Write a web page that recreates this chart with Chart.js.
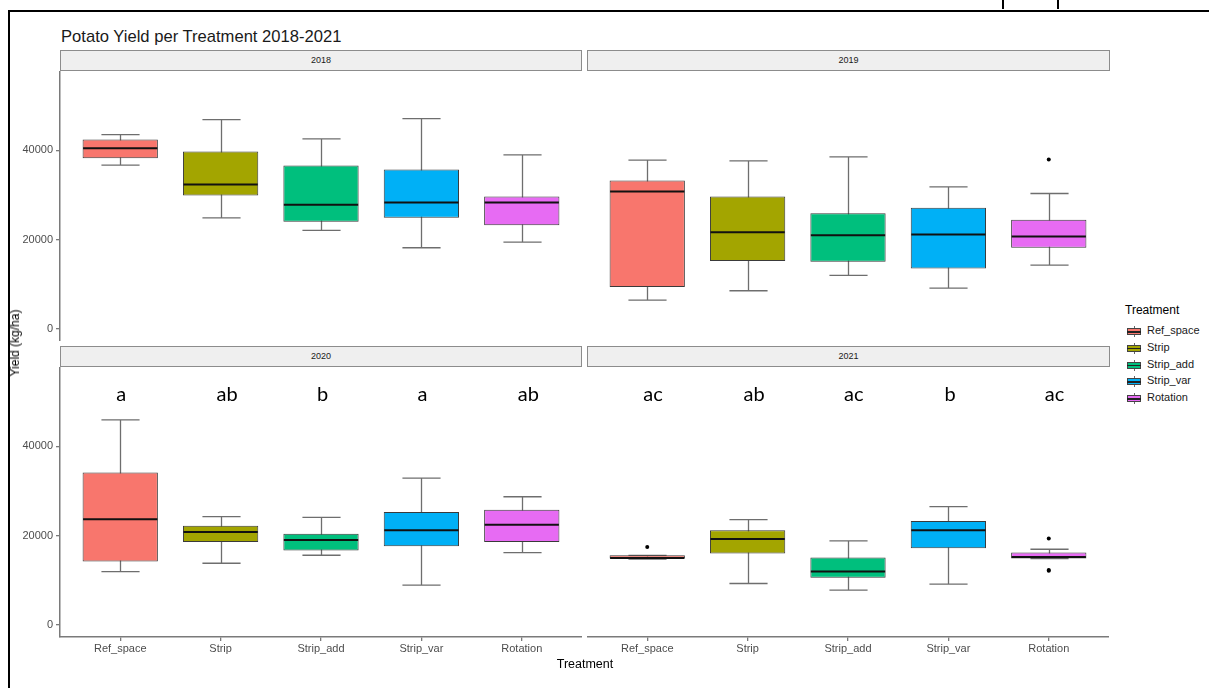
<!DOCTYPE html>
<html>
<head>
<meta charset="utf-8">
<title>Potato Yield per Treatment 2018-2021</title>
<script src="https://cdn.jsdelivr.net/npm/chart.js@4.4.1/dist/chart.umd.min.js"></script>
<style>
  html, body { margin: 0; padding: 0; }
  body {
    width: 1209px; height: 688px; position: relative; overflow: hidden;
    background: #fff; font-family: "Liberation Sans", Arial, sans-serif;
  }
  .frame {
    position: absolute; left: 8px; top: 10px; width: 1400px; height: 900px;
    border-left: 2px solid #000; border-top: 2px solid #000;
  }
  .nub { position: absolute; top: 0; width: 2px; height: 9px; background: #000; }
  .title {
    position: absolute; left: 61px; top: 27px; font-size: 16.6px; color: #1a1a1a;
    white-space: nowrap;
  }
  .strip {
    position: absolute; height: 21px; box-sizing: border-box;
    background: #efefef; border: 1px solid #8c8c8c;
    font-size: 9px; color: #1a1a1a; text-align: center; line-height: 19px;
  }
  canvas.panel { position: absolute; }
  .ylab {
    position: absolute; left: 15px; top: 343px; font-size: 12px; color: #000;
    transform: translate(-50%, -50%) rotate(-90deg); white-space: nowrap;
  }
  .xlab {
    position: absolute; left: 585px; top: 664px; font-size: 12.5px; color: #000;
    transform: translate(-50%, -50%); white-space: nowrap;
  }
  .legend { position: absolute; left: 1125px; top: 303px; }
  .legend .ltitle { font-size: 12px; color: #000; height: 20px; }
  .legend .item { position: relative; height: 16.8px; }
  .legend .key {
    position: absolute; left: 2px; top: 3px; width: 14px; height: 10px;
  }
  .legend .key .stub {
    position: absolute; left: 6.5px; width: 1px; height: 2px; background: #666;
  }
  .legend .key .box {
    position: absolute; left: 0; top: 2px; width: 14px; height: 7px;
    box-sizing: border-box; border: 1px solid #444;
  }
  .legend .key .med {
    position: absolute; left: 0; top: 5px; width: 14px; height: 1.5px; background: #222;
  }
  .legend .lbl {
    position: absolute; left: 22px; top: 1px; font-size: 11px; color: #1a1a1a;
    white-space: nowrap;
  }
</style>
</head>
<body>
<div class="frame"></div>
<div class="nub" style="left:1002px"></div>
<div class="nub" style="left:1057px"></div>
<div class="title">Potato Yield per Treatment 2018-2021</div>

<div class="strip" style="left:60px; top:50px; width:522px;">2018</div>
<div class="strip" style="left:587px; top:50px; width:523px;">2019</div>
<div class="strip" style="left:60px; top:346px; width:522px;">2020</div>
<div class="strip" style="left:587px; top:346px; width:523px;">2021</div>

<canvas id="p2018" class="panel" width="572" height="270" style="left:10px; top:71px;"></canvas>
<canvas id="p2019" class="panel" width="522" height="270" style="left:587px; top:71px;"></canvas>
<canvas id="p2020" class="panel" width="572" height="294" style="left:10px; top:367px;"></canvas>
<canvas id="p2021" class="panel" width="522" height="294" style="left:587px; top:367px;"></canvas>

<div class="ylab">Yield (kg/ha)</div>
<div class="xlab">Treatment</div>
<div class="legend" id="legend"><div class="ltitle">Treatment</div></div>

<script>
// Treatments (x categories) and their fill colours
const treatments = ['Ref_space', 'Strip', 'Strip_add', 'Strip_var', 'Rotation'];
const fillColors = ['#F8766D', '#A3A500', '#00BF7D', '#00B0F6', '#E76BF3'];
const yTicks = [0, 20000, 40000];

// Yield (kg/ha) box statistics per year, one value per treatment
const lower2018  = [36640, 24850, 22020, 18140, 19400];
const q1_2018    = [38210, 29850, 23960, 24850, 23210];
const median2018 = [40450, 32310, 27760, 28280, 28280];
const q3_2018    = [42390, 39700, 36570, 35670, 29630];
const upper2018  = [43510, 46870, 42540, 47090, 38960];
const outliers2018 = [];

const lower2019  = [6420, 8510, 11940, 9100, 14250];
const q1_2019    = [9330, 15150, 15000, 13510, 18140];
const median2019 = [30750, 21640, 20970, 21120, 20670];
const q3_2019    = [33210, 29630, 25900, 27090, 24400];
const upper2019  = [37760, 37610, 38510, 31790, 30300];
const outliers2019 = [{ x: 5, y: 37910 }];

const lower2020  = [11920, 13780, 15570, 8870, 16170];
const q1_2020    = [14160, 18550, 16610, 17580, 18550];
const median2020 = [23620, 20790, 19000, 21160, 22420];
const q3_2020    = [34120, 22200, 20410, 25260, 25780];
const upper2020  = [45890, 24210, 24060, 32850, 28680];
const outliers2020 = [];
const letters2020 = ['a', 'ab', 'b', 'a', 'ab'];

const lower2021  = [14700, 9240, 7750, 9090, 14830];
const q1_2021    = [14850, 15940, 10500, 17140, 14830];
const median2021 = [14950, 19220, 11920, 21160, 15200];
const q3_2021    = [15550, 21160, 15050, 23240, 16170];
const upper2021  = [15550, 23540, 18770, 26450, 16910];
const outliers2021 = [{ x: 1, y: 17430 }, { x: 5, y: 19300 }, { x: 5, y: 12290 }, { x: 5, y: 12100 }];
const letters2021 = ['ac', 'ab', 'ac', 'b', 'ac'];

// Height (in data units) at which the significance letters sit
const letterLevel = 51500;

const AXIS_COLOR = '#7a7a7a';
const TICK_FONT = { family: '"Liberation Sans", Arial, sans-serif', size: 11 };

// Whiskers, caps, medians and letters drawn with the chart's own scales
function boxParts(stats) {
  return {
    id: 'boxParts',
    beforeDatasetsDraw(chart) {
      const { ctx, scales: { x, y } } = chart;
      const capHalf = x.getPixelForValue(1.19) - x.getPixelForValue(1);
      ctx.save();
      ctx.strokeStyle = '#6e6e6e';
      ctx.lineWidth = 1.3;
      stats.lower.forEach((lo, i) => {
        const cx = Math.round(x.getPixelForValue(i + 1)) + 0.5;
        const yLo = y.getPixelForValue(lo);
        const yHi = y.getPixelForValue(stats.upper[i]);
        ctx.beginPath();
        ctx.moveTo(cx, yLo); ctx.lineTo(cx, yHi);
        ctx.moveTo(cx - capHalf, yLo); ctx.lineTo(cx + capHalf, yLo);
        ctx.moveTo(cx - capHalf, yHi); ctx.lineTo(cx + capHalf, yHi);
        ctx.stroke();
      });
      ctx.restore();
    },
    afterDatasetsDraw(chart) {
      const { ctx, scales: { x, y } } = chart;
      const bars = chart.getDatasetMeta(0).data;
      ctx.save();
      ctx.strokeStyle = '#111';
      ctx.lineWidth = 2;
      stats.median.forEach((m, i) => {
        const bar = bars[i];
        const half = bar.width / 2;
        const py = y.getPixelForValue(m);
        ctx.beginPath();
        ctx.moveTo(bar.x - half + 0.5, py);
        ctx.lineTo(bar.x + half - 0.5, py);
        ctx.stroke();
      });
      if (stats.letters) {
        ctx.fillStyle = '#000';
        ctx.font = '20px Lato, "Liberation Sans", sans-serif';
        ctx.textAlign = 'left';
        ctx.textBaseline = 'middle';
        stats.letters.forEach((t, i) => {
          ctx.fillText(t, x.getPixelForValue(i + 1) - 4, y.getPixelForValue(letterLevel));
        });
      }
      ctx.restore();
    }
  };
}

function makePanel(id, stats, showY, showX) {
  const boxes = treatments.map((t, i) => ({ x: i + 1, y: [stats.q1[i], stats.q3[i]] }));
  return new Chart(document.getElementById(id), {
    type: 'bar',
    data: {
      datasets: [
        {
          type: 'bar',
          data: boxes,
          backgroundColor: fillColors,
          borderColor: '#3a3a3a',
          borderWidth: 1,
          borderSkipped: false,
          categoryPercentage: 0.75,
          barPercentage: 1,
          order: 2
        },
        {
          type: 'scatter',
          data: stats.outliers,
          pointRadius: 2,
          pointBackgroundColor: '#000',
          pointBorderColor: '#000',
          pointBorderWidth: 0,
          order: 1
        }
      ]
    },
    options: {
      responsive: false,
      animation: false,
      events: [],
      layout: { padding: 0, autoPadding: false },
      plugins: { legend: { display: false }, tooltip: { enabled: false }, title: { display: false } },
      scales: {
        x: {
          type: 'linear',
          min: 0.4,
          max: 5.6,
          offset: false,
          display: showX,
          afterBuildTicks: (axis) => { axis.ticks = treatments.map((t, i) => ({ value: i + 1 })); },
          afterFit: (axis) => {
            axis.height = showX ? 24 : 0;
            axis.paddingLeft = 0; axis.paddingRight = 0;
            axis.paddingTop = 0; axis.paddingBottom = 0;
          },
          ticks: {
            autoSkip: false,
            maxRotation: 0,
            padding: 1,
            color: '#4d4d4d',
            font: TICK_FONT,
            callback: (v) => treatments[Math.round(v) - 1]
          },
          grid: { offset: false, drawOnChartArea: false, drawTicks: true, tickLength: 4, color: AXIS_COLOR, lineWidth: 1.3 },
          border: { display: true, color: AXIS_COLOR, width: 1.5 }
        },
        y: {
          type: 'linear',
          min: -2750,
          max: 57750,
          display: showY,
          afterBuildTicks: (axis) => { axis.ticks = yTicks.map(v => ({ value: v })); },
          afterFit: (axis) => {
            axis.width = showY ? 50 : 0;
            axis.paddingLeft = 0; axis.paddingRight = 0;
            axis.paddingTop = 0; axis.paddingBottom = 0;
          },
          ticks: { padding: 3, color: '#4d4d4d', font: TICK_FONT, callback: (v) => String(v) },
          grid: { offset: false, drawOnChartArea: false, drawTicks: true, tickLength: 4, color: AXIS_COLOR, lineWidth: 1.3 },
          border: { display: true, color: AXIS_COLOR, width: 1.5 }
        }
      }
    },
    plugins: [boxParts(stats)]
  });
}

makePanel('p2018', { lower: lower2018, q1: q1_2018, median: median2018, q3: q3_2018, upper: upper2018, outliers: outliers2018 }, true, false);
makePanel('p2019', { lower: lower2019, q1: q1_2019, median: median2019, q3: q3_2019, upper: upper2019, outliers: outliers2019 }, false, false);
makePanel('p2020', { lower: lower2020, q1: q1_2020, median: median2020, q3: q3_2020, upper: upper2020, outliers: outliers2020, letters: letters2020 }, true, true);
makePanel('p2021', { lower: lower2021, q1: q1_2021, median: median2021, q3: q3_2021, upper: upper2021, outliers: outliers2021, letters: letters2021 }, false, true);

// Legend keys
const legend = document.getElementById('legend');
treatments.forEach((t, i) => {
  const item = document.createElement('div');
  item.className = 'item';
  item.innerHTML =
    '<div class="key">' +
      '<div class="stub" style="top:0"></div>' +
      '<div class="box" style="background:' + fillColors[i] + '"></div>' +
      '<div class="med"></div>' +
      '<div class="stub" style="top:9px"></div>' +
    '</div>' +
    '<div class="lbl"></div>';
  item.querySelector('.lbl').textContent = t;
  legend.appendChild(item);
});
</script>
</body>
</html>
